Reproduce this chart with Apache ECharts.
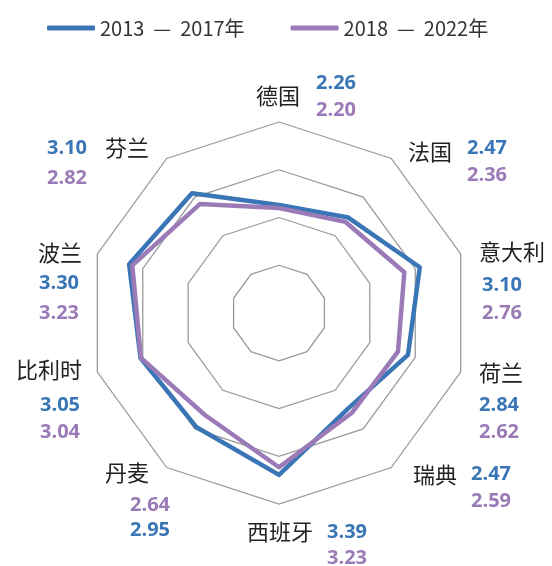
<!DOCTYPE html>
<html>
<head>
<meta charset="utf-8">
<script src="https://cdn.jsdelivr.net/npm/echarts@6/dist/echarts.min.js"></script>
<style>
  html, body { margin: 0; padding: 0; background: #ffffff; }
  #chart { width: 552px; height: 566px; }
</style>
</head>
<body>
<div id="chart"></div>
<script>
// 国家（图中顺时针顺序，从顶部开始）
var countries = ["德国", "法国", "意大利", "荷兰", "瑞典", "西班牙", "丹麦", "比利时", "波兰", "芬兰"];
var period1 = [2.26, 2.47, 3.10, 2.84, 2.47, 3.39, 2.95, 3.05, 3.30, 3.10];
var period2 = [2.20, 2.36, 2.76, 2.62, 2.59, 3.23, 2.64, 3.04, 3.23, 2.82];
var seriesNames = ["2013 — 2017年", "2018 — 2022年"];
var axisMax = 4;

var BLUE = "#3a76b6";
var PURPLE = "#9b7bb7";

// 标签位置 [名称, 第一期数值, 第二期数值]（中心点）
var labelPos = [
  [[278, 96], [336, 83], [336, 110]],
  [[430, 152], [487, 148], [487, 175]],
  [[512, 252], [502, 285], [502, 313]],
  [[501, 373], [499, 405], [499, 432]],
  [[435, 475], [491, 474], [491, 501]],
  [[280, 532], [347, 532], [347, 558]],
  [[127, 473], [150, 530], [150, 505]],
  [[49, 370], [60, 405], [60, 432]],
  [[60, 253], [59, 283], [59, 313]],
  [[127, 148], [67, 148], [67, 178]]
];

// ECharts 雷达图为逆时针，调整顺序
var order = [0];
for (var i = countries.length - 1; i > 0; i--) order.push(i);

var indicators = order.map(function (k) {
  return { name: countries[k], min: 0, max: axisMax };
});
var d1 = order.map(function (k) { return period1[k]; });
var d2 = order.map(function (k) { return period2[k]; });

var graphics = [];
countries.forEach(function (c, k) {
  var p = labelPos[k];
  graphics.push({
    type: "text", x: p[0][0], y: p[0][1],
    style: { text: c, fill: "#222", font: "22px 'Noto Sans CJK SC'", align: "center", verticalAlign: "middle" }
  });
  graphics.push({
    type: "text", x: p[1][0], y: p[1][1],
    style: { text: period1[k].toFixed(2), fill: BLUE, font: "bold 20px 'Open Sans'", align: "center", verticalAlign: "middle" }
  });
  graphics.push({
    type: "text", x: p[2][0], y: p[2][1],
    style: { text: period2[k].toFixed(2), fill: PURPLE, font: "bold 20px 'Open Sans'", align: "center", verticalAlign: "middle" }
  });
});

var myChart = echarts.init(document.getElementById("chart"));
myChart.setOption({
  animation: false,
  color: [BLUE, PURPLE],
  legend: {
    left: 42,
    top: 13,
    itemWidth: 48,
    itemHeight: 5,
    itemGap: 46,
    icon: "roundRect",
    data: seriesNames,
    formatter: function (name) {
      return name.replace(" — ", "  —  ");
    },
    textStyle: { fontSize: 20, color: "#333", fontFamily: "Noto Sans CJK SC" }
  },
  radar: {
    center: [279, 313],
    radius: 191,
    startAngle: 90,
    shape: "polygon",
    splitNumber: 4,
    indicator: indicators,
    axisName: { show: false },
    axisLine: { show: false },
    axisTick: { show: false },
    axisLabel: { show: false },
    splitArea: { show: false },
    splitLine: { lineStyle: { color: "#9a9a9a", width: 1.3 } }
  },
  graphic: graphics,
  series: [
    {
      type: "radar",
      symbol: "none",
      data: [
        { name: seriesNames[0], value: d1, lineStyle: { color: BLUE, width: 4.5 }, itemStyle: { color: BLUE } },
        { name: seriesNames[1], value: d2, lineStyle: { color: PURPLE, width: 4.5 }, itemStyle: { color: PURPLE } }
      ]
    }
  ]
});
</script>
</body>
</html>
